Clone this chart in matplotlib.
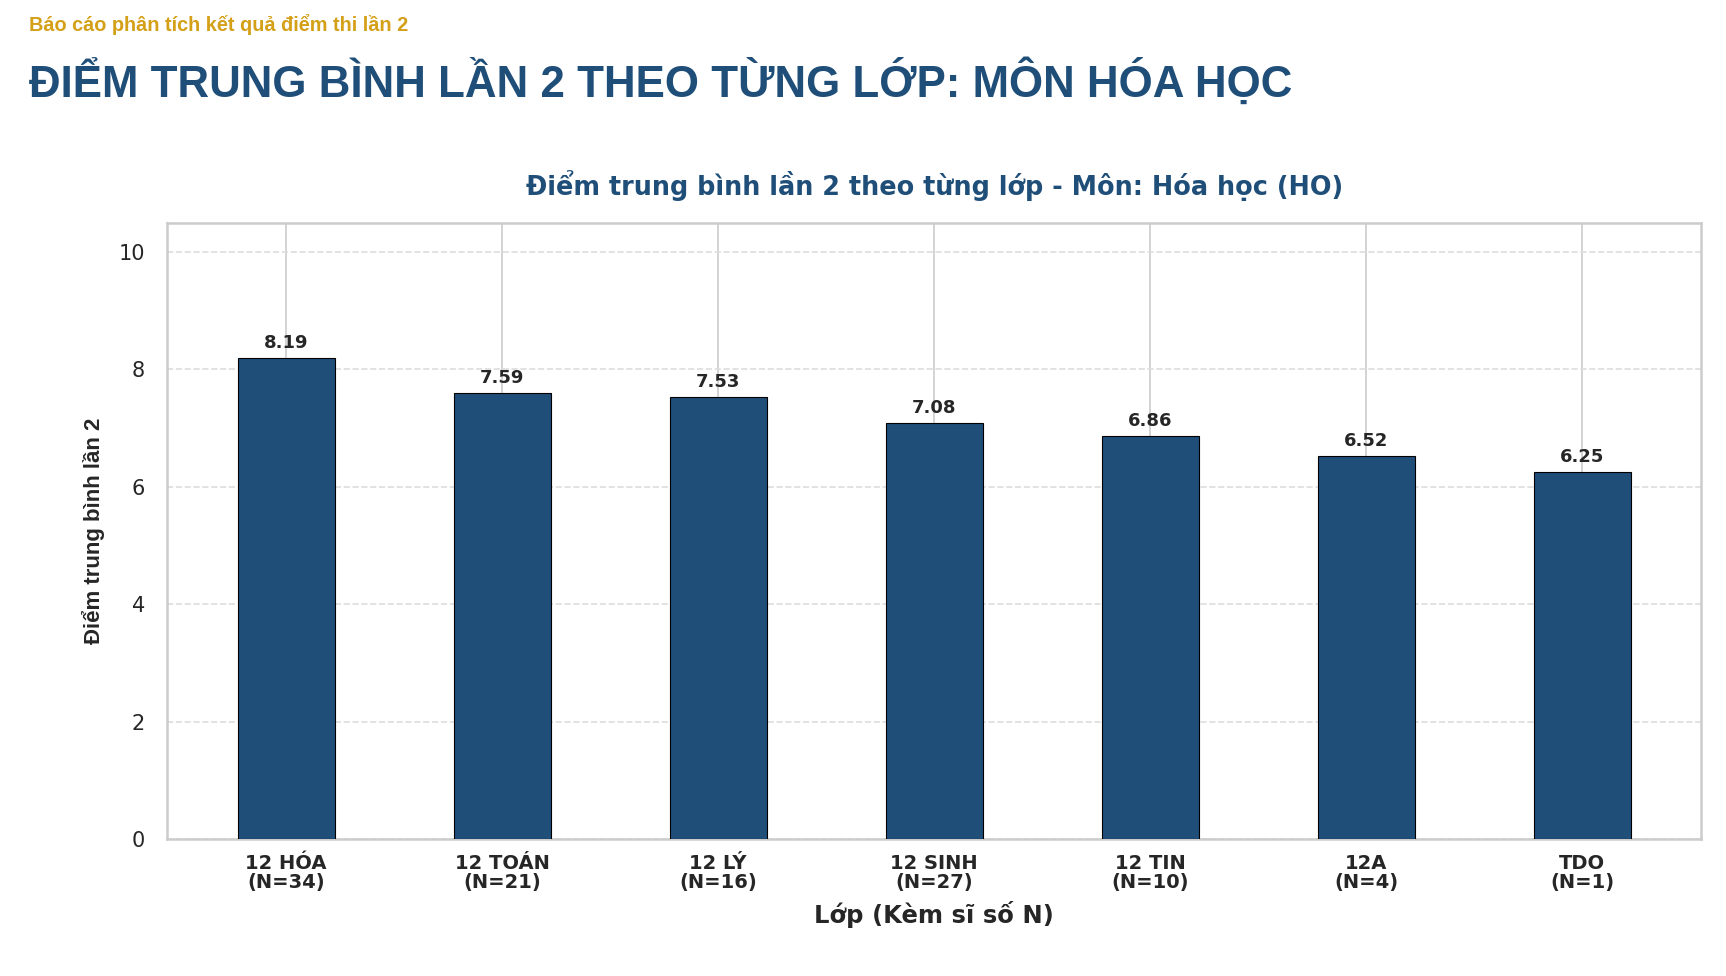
import matplotlib
matplotlib.use("Agg")
import matplotlib.pyplot as plt
from matplotlib import font_manager
import numpy as np

# Data
classes = ["12 HÓA", "12 TOÁN", "12 LÝ", "12 SINH", "12 TIN", "12A", "TDO"]
counts = [34, 21, 16, 27, 10, 4, 1]
means = [8.19, 7.59, 7.53, 7.08, 6.86, 6.52, 6.25]
y_ticks = [0, 2, 4, 6, 8, 10]

NAVY = "#1F4E79"
GOLD = "#D4A017"
DARK = "#262626"


def pick_font(*names):
    """Return the first installed family from names."""
    installed = {f.name for f in font_manager.fontManager.ttflist}
    for n in names:
        if n in installed:
            return n
    return "DejaVu Sans"


arial = pick_font("Liberation Sans", "DejaVu Sans")

fig = plt.figure(figsize=(17.26, 9.76), dpi=100)

# Report header
fig.text(0.017, 0.968, "Báo cáo phân tích kết quả điểm thi lần 2",
         color=GOLD, fontsize=14.3, fontweight="bold", family=arial,
         va="baseline")
fig.text(0.017, 0.901, "ĐIỂM TRUNG BÌNH LẦN 2 THEO TỪNG LỚP: MÔN HÓA HỌC",
         color=NAVY, fontsize=31.6, fontweight="bold", family=arial,
         va="baseline")

ax = fig.add_axes([0.097, 0.1404, 0.8885, 0.6316])

x = np.arange(len(classes))
ax.bar(x, means, width=0.45, color=NAVY, edgecolor="black",
       linewidth=0.8, zorder=3)

# Value labels above bars
for xi, v in zip(x, means):
    ax.text(xi, v + 0.1, f"{v:.2f}", ha="center", va="bottom",
            fontsize=13, fontweight="bold", color=DARK, zorder=4)

ax.set_xlim(-0.55, len(classes) - 0.45)
ax.set_ylim(0, 10.5)
ax.set_yticks(y_ticks)
ax.set_xticks(x)
ax.set_xticklabels([f"{c}\n(N={n})" for c, n in zip(classes, counts)],
                   fontsize=14, fontweight="bold", color=DARK,
                   linespacing=1.0)
for lbl in ax.get_yticklabels():
    lbl.set_fontsize(15)
    lbl.set_color(DARK)

ax.tick_params(axis="x", length=0, pad=11)
ax.tick_params(axis="y", length=0, pad=16)
ax.grid(axis="x", color="#cccccc", linewidth=1.2, zorder=0)
ax.grid(axis="y", color="#dddddd", linestyle="--", linewidth=1.2, zorder=0)
for s in ax.spines.values():
    s.set_color("#cccccc")
    s.set_linewidth(1.8)

ax.set_title("Điểm trung bình lần 2 theo từng lớp - Môn: Hóa học (HO)",
             fontsize=18.4, fontweight="bold", color=NAVY, pad=20)
ax.set_xlabel("Lớp (Kèm sĩ số N)", fontsize=17.5, fontweight="bold",
              color=DARK, labelpad=6)
ax.set_ylabel("Điểm trung bình lần 2", fontsize=16, fontweight="bold",
              family=arial, color=DARK, labelpad=10)

fig.savefig("out.png", dpi=100)
